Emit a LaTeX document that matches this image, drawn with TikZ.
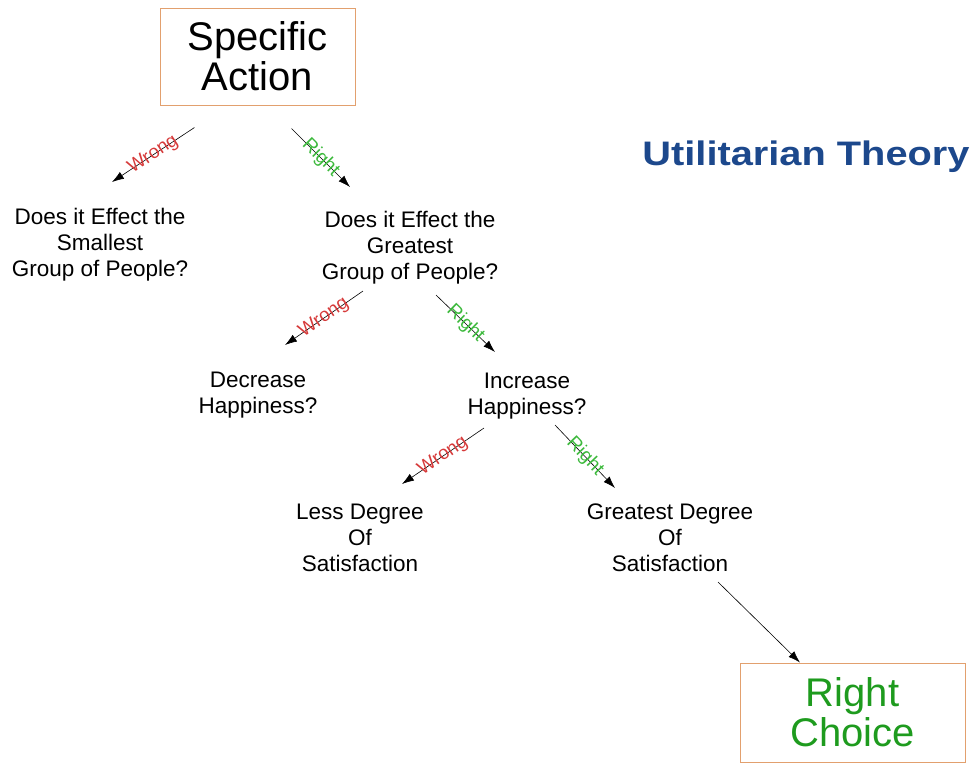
\documentclass[tikz,border=0pt]{standalone}
\usepackage{fontspec}
\setmainfont{Liberation Sans}
\usepackage{xcolor}
\usetikzlibrary{positioning,arrows.meta,calc}
\definecolor{boxedge}{RGB}{226,160,110}
\definecolor{wrongred}{RGB}{214,58,58}
\definecolor{rightgreen}{RGB}{60,185,60}
\definecolor{choicegreen}{RGB}{30,155,30}
\definecolor{titleblue}{RGB}{28,72,140}
\begin{document}
\begin{tikzpicture}[
          x=1pt, y=-1pt,
          bigbox/.style={draw=boxedge, line width=1pt, minimum width=195pt, minimum height=97pt, align=center, font=\fontsize{40}{40}\selectfont},
          question/.style={align=center, font=\fontsize{22.5}{26}\selectfont},
          arr/.style={-{Latex[length=12pt, width=8pt]}, line width=0.6pt},
          verdict/.style={sloped, inner sep=0pt, font=\fontsize{19}{19}\selectfont}
      ]
        \useasboundingbox (0,0) rectangle (975,764);
        \node[bigbox] (act) at (257.5,56.5) {Specific\\Action};
        \node[font=\bfseries\fontsize{34}{35}\selectfont, text=titleblue, xscale=1.17] (title) at (806,157) {Utilitarian Theory};
        \node[question] (small) at (100,245) {Does it Effect the\\Smallest\\Group of People?};
        \node[question] (great) at (410,248) {Does it Effect the\\Greatest\\Group of People?};
        \node[question] (dec) at (258,395) {Decrease\\Happiness?};
        \node[question] (inc) at (527,396) {Increase\\Happiness?};
        \node[question] (less) at (360,538) {Less Degree\\Of\\Satisfaction};
        \node[question] (most) at (670,538) {Greatest Degree\\Of\\Satisfaction};
        \node[bigbox, minimum width=225pt, minimum height=99pt, text=choicegreen] (choice) at (852.5,712.5) {Right\\Choice};
        % wrong / right branches
        \draw[arr] ([shift={(-63,22)}]act.south) -- node[verdict, text=wrongred] {Wrong} ([shift={(12,-63)}]small.center);
        \draw[arr] ([shift={(34,23)}]act.south) -- node[verdict, text=rightgreen] {Right} ([shift={(-60,-61)}]great.center);
        \draw[arr] ([shift={(-47,43)}]great.center) -- node[verdict, text=wrongred] {Wrong} ([shift={(27,-50)}]dec.center);
        \draw[arr] ([shift={(26,47)}]great.center) -- node[verdict, text=rightgreen] {Right} ([shift={(-32,-44)}]inc.center);
        \draw[arr] ([shift={(-43,32)}]inc.center) -- node[verdict, text=wrongred] {Wrong} ([shift={(42,-54)}]less.center);
        \draw[arr] ([shift={(28,29)}]inc.center) -- node[verdict, text=rightgreen] {Right} ([shift={(-55,-50)}]most.center);
        \draw[arr] ([shift={(48,44)}]most.center) -- (choice.north west -| 800,0);
      \end{tikzpicture}
\end{document}
